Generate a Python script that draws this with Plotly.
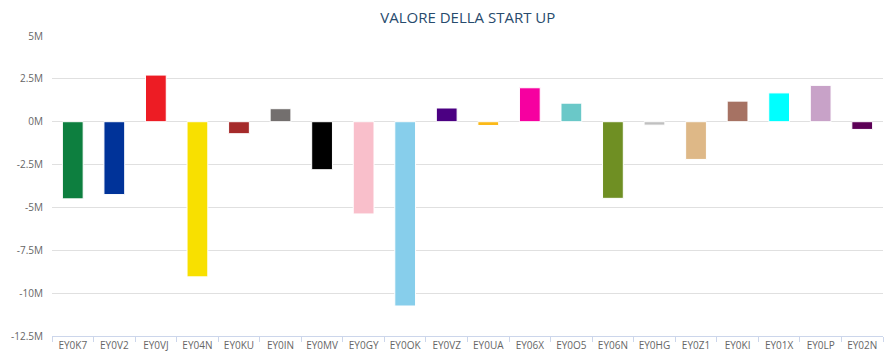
import plotly.graph_objects as go

categories = ["EY0K7", "EY0V2", "EY0VJ", "EY04N", "EY0KU", "EY0IN", "EY0MV", "EY0GY", "EY0OK", "EY0VZ",
              "EY0UA", "EY06X", "EY0O5", "EY06N", "EY0HG", "EY0Z1", "EY0KI", "EY01X", "EY0LP", "EY02N"]
values = [-4.5e6, -4.25e6, 2.72e6, -9.05e6, -0.7e6, 0.76e6, -2.8e6, -5.38e6, -10.75e6, 0.8e6,
          -0.22e6, 1.98e6, 1.08e6, -4.47e6, -0.2e6, -2.2e6, 1.2e6, 1.68e6, 2.12e6, -0.45e6]
colors = ["#0d7f3f", "#003399", "#ed1c24", "#f8e000", "#a52a2a", "#736f6e", "#000000", "#f9bfcb",
          "#87ceeb", "#4b0082", "#fbb917", "#f600a0", "#6ac8c8", "#6f8f23", "#c0c0c0", "#deb887",
          "#a67263", "#00ffff", "#c8a2c8", "#5c0056"]
tick_vals = [5e6, 2.5e6, 0, -2.5e6, -5e6, -7.5e6, -10e6, -12.5e6]
tick_text = ["5M", "2.5M", "0M", "-2.5M", "-5M", "-7.5M", "-10M", "-12.5M"]

fig = go.Figure(go.Bar(
    x=categories, y=values,
    marker=dict(color=colors, line=dict(color="white", width=1)),
))

fig.update_layout(
    width=891, height=354,
    margin=dict(l=52, r=8, t=36, b=18),
    paper_bgcolor="white", plot_bgcolor="white",
    font=dict(family="Open Sans, DejaVu Sans, sans-serif", size=10, color="#666666"),
    title=dict(text="VALORE DELLA START UP", x=0.525, xanchor="center", y=0.95, yanchor="middle",
               font=dict(size=15, color="#274b6d")),
    bargap=0.5,
    showlegend=False,
)
fig.update_xaxes(
    type="category", showgrid=False, showline=True, linecolor="#ccd6eb", linewidth=1,
    ticks="outside", tickson="boundaries", ticklen=5, tickcolor="#ccd6eb",
    tickfont=dict(size=10, color="#666666"), zeroline=False, automargin=False,
)
fig.update_yaxes(
    range=[-12.5e6, 5e6], tickvals=tick_vals, ticktext=tick_text,
    showgrid=True, gridcolor="#e0e0e0", gridwidth=1,
    zeroline=True, zerolinecolor="#e0e0e0", zerolinewidth=1,
    showline=False, ticks="", ticklabelstandoff=8, automargin=False,
    tickfont=dict(size=10, color="#666666"),
)

fig.write_html("out.html")
